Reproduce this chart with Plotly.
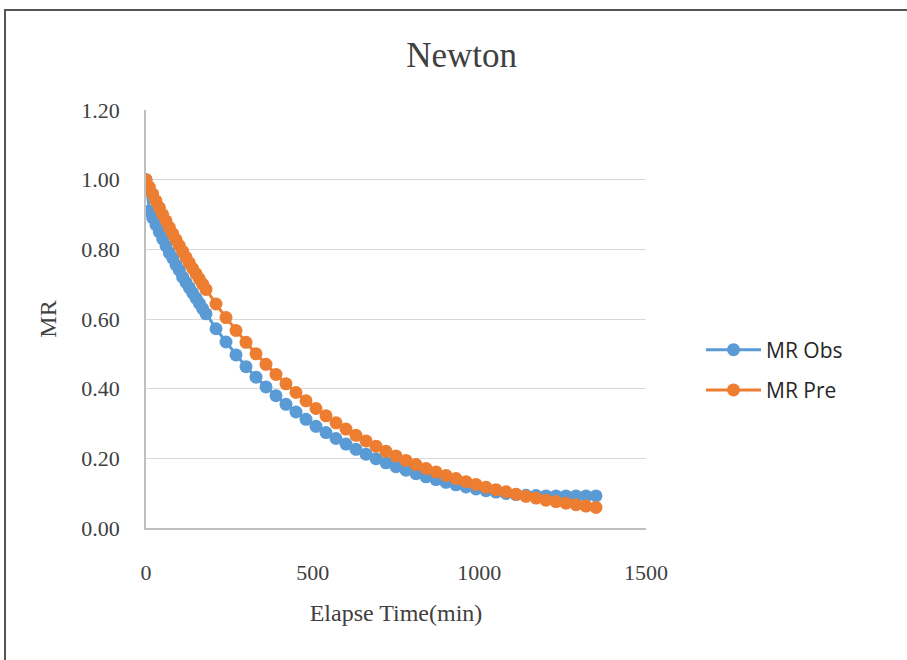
import plotly.graph_objects as go

# Elapsed time (min)
time_min = [0, 10, 20, 30, 40, 50, 60, 70, 80, 90, 100, 110, 120, 130, 140, 150, 160, 170, 180,
            210, 240, 270, 300, 330, 360, 390, 420, 450, 480, 510, 540, 570, 600, 630, 660, 690,
            720, 750, 780, 810, 840, 870, 900, 930, 960, 990, 1020, 1050, 1080, 1110, 1140, 1170,
            1200, 1230, 1260, 1290, 1320, 1350]

mr_obs = [1.00, 0.91, 0.89, 0.87, 0.85, 0.83, 0.81, 0.79, 0.775, 0.755, 0.74, 0.72, 0.705, 0.69,
          0.675, 0.66, 0.645, 0.63, 0.615,
          0.572, 0.534, 0.497, 0.463, 0.433, 0.405, 0.38, 0.355, 0.333, 0.312, 0.292, 0.274,
          0.257, 0.241, 0.226, 0.212, 0.199, 0.187, 0.176, 0.166, 0.156, 0.147, 0.139, 0.131,
          0.124, 0.118, 0.112, 0.107, 0.103, 0.099, 0.096, 0.094, 0.093, 0.092, 0.092, 0.092,
          0.092, 0.092, 0.092]

mr_pre = [1.000, 0.979, 0.959, 0.939, 0.920, 0.900, 0.882, 0.863, 0.845, 0.828, 0.811, 0.794,
          0.777, 0.761, 0.745, 0.730, 0.715, 0.700, 0.685,
          0.643, 0.604, 0.567, 0.533, 0.500, 0.470, 0.441, 0.414, 0.389, 0.365, 0.343, 0.322,
          0.302, 0.284, 0.266, 0.250, 0.235, 0.220, 0.207, 0.194, 0.182, 0.171, 0.161, 0.151,
          0.142, 0.133, 0.125, 0.117, 0.110, 0.104, 0.097, 0.091, 0.086, 0.080, 0.076, 0.071,
          0.067, 0.063, 0.059]

x_ticks = [0, 500, 1000, 1500]
y_ticks = [0.0, 0.2, 0.4, 0.6, 0.8, 1.0, 1.2]

BLUE = "#5B9BD5"
ORANGE = "#ED7D31"
SERIF = "Liberation Serif, Times New Roman, serif"
TXT = "#404040"

fig = go.Figure()
fig.add_trace(go.Scatter(x=time_min, y=mr_obs, mode="lines+markers", name="MR Obs",
                         legendgroup="a",
                         line=dict(color=BLUE, width=3),
                         marker=dict(color=BLUE, size=13)))
fig.add_trace(go.Scatter(x=time_min, y=mr_pre, mode="lines+markers", name="MR Pre",
                         legendgroup="b",
                         line=dict(color=ORANGE, width=3),
                         marker=dict(color=ORANGE, size=13)))

fig.update_layout(
    width=907, height=660,
    margin=dict(l=146, r=261, t=110, b=132),
    paper_bgcolor="white", plot_bgcolor="white",
    title=dict(text="Newton", font=dict(family=SERIF, size=35, color=TXT),
               x=0.509, xref="container", xanchor="center",
               y=1 - 55 / 660, yref="container", yanchor="middle"),
    legend=dict(x=1.11, y=0.378, xanchor="left", yanchor="middle",
                font=dict(family="Open Sans, Liberation Sans, sans-serif", size=21, color="#262626"),
                itemwidth=55,
                traceorder="grouped", tracegroupgap=10, bgcolor="rgba(0,0,0,0)"),
    shapes=[dict(type="rect", xref="paper", yref="paper",
                 x0=(5 - 146) / 500, x1=(920 - 146) / 500,
                 y0=(528 - 680) / 418, y1=(528 - 10) / 418,
                 line=dict(color="#555555", width=2), fillcolor="rgba(0,0,0,0)", layer="below")],
)

fig.update_xaxes(range=[0, 1500], tickvals=x_ticks, showgrid=False, zeroline=False,
                 showline=True, linecolor="#bfbfbf", linewidth=1.5,
                 ticks="outside", ticklen=24, tickcolor="rgba(0,0,0,0)",
                 tickfont=dict(family=SERIF, size=22, color=TXT),
                 title=dict(text="Elapse Time(min)", font=dict(family=SERIF, size=24, color=TXT),
                            standoff=20))
fig.update_yaxes(range=[0, 1.2], tickvals=y_ticks, tickformat=".2f",
                 showgrid=True, gridcolor="#d9d9d9", gridwidth=1, zeroline=False,
                 showline=True, linecolor="#bfbfbf", linewidth=1.5,
                 ticks="outside", ticklen=20, tickcolor="rgba(0,0,0,0)",
                 tickfont=dict(family=SERIF, size=22, color=TXT),
                 title=dict(text="MR", font=dict(family=SERIF, size=24, color=TXT),
                            standoff=18))

fig.write_html("out.html", config={"displayModeBar": False},
               post_script="document.body.style.margin='0px';")
